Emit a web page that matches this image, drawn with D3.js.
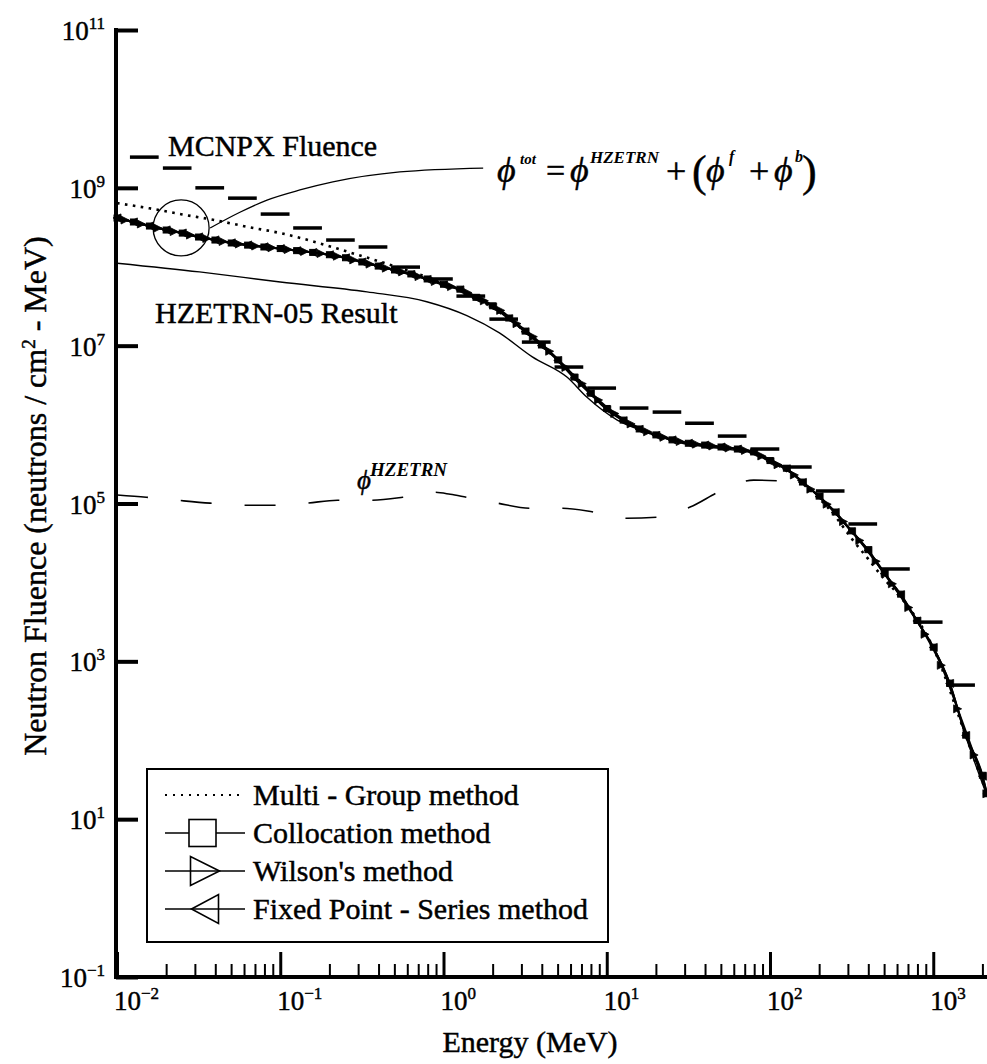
<!DOCTYPE html>
<html>
<head>
<meta charset="utf-8">
<script src="https://cdn.jsdelivr.net/npm/d3@7"></script>
<style>
  body { margin: 0; background: #fff; }
  svg text { fill: #000; stroke: #000; stroke-width: 0.45px; }
</style>
</head>
<body>
<svg id="chart" width="987" height="1064"></svg>
<script>
// ---- Deterministic solutions (MeV, neutrons / cm^2 - MeV) ----
const methodEnergy = [0.01, 0.0126, 0.0158, 0.02, 0.0251, 0.0316, 0.0398, 0.0501, 0.0631, 0.0794,
  0.1, 0.126, 0.158, 0.2, 0.251, 0.316, 0.398, 0.501, 0.631, 0.794,
  1, 1.26, 1.58, 2, 2.51, 3.16, 3.98, 5.01, 6.31, 7.94,
  10, 12.6, 15.8, 20, 25.1, 31.6, 39.8, 50.1, 63.1, 79.4,
  100, 126, 158, 200, 251, 316, 398, 501, 631, 794,
  1000, 1260, 1580, 2000, 2130];
const collocation = [4.14e8, 3.69e8, 3.28e8, 2.92e8, 2.67e8, 2.38e8, 2.18e8, 2.0e8, 1.88e8, 1.78e8,
  1.70e8, 1.60e8, 1.52e8, 1.42e8, 1.30e8, 1.15e8, 1.02e8, 9.1e7, 8.1e7, 7.0e7,
  6.0e7, 5.2e7, 4.1e7, 3.2e7, 2.24e7, 1.53e7, 1.02e7, 6.6e6, 4.0e6, 2.5e6,
  1.6e6, 1.14e6, 8.8e5, 7.4e5, 6.4e5, 5.8e5, 5.5e5, 5.2e5, 4.9e5, 4.5e5,
  3.5e5, 2.8e5, 1.87e5, 1.24e5, 7.8e4, 4.5e4, 2.6e4, 1.31e4, 7.1e3, 3.3e3,
  1.51e3, 530, 116, 36, 21];
const fixedPoint = [4.16e8, 3.70e8, 3.29e8, 2.93e8, 2.68e8, 2.39e8, 2.19e8, 2.01e8, 1.89e8, 1.79e8,
  1.70e8, 1.60e8, 1.52e8, 1.42e8, 1.30e8, 1.15e8, 1.02e8, 9.0e7, 8.0e7, 6.9e7,
  5.9e7, 5.1e7, 4.0e7, 3.1e7, 2.2e7, 1.50e7, 1.0e7, 6.5e6, 3.9e6, 2.45e6,
  1.55e6, 1.12e6, 8.7e5, 7.3e5, 6.4e5, 5.8e5, 5.5e5, 5.2e5, 4.9e5, 4.4e5,
  3.4e5, 2.75e5, 1.85e5, 1.22e5, 7.7e4, 4.4e4, 2.55e4, 1.29e4, 7.0e3, 3.25e3,
  1.5e3, 525, 115, 35, 21];
// Wilson's method is tabulated on a staggered energy grid
const wilsonEnergy = [0.0112, 0.0141, 0.0178, 0.0224, 0.0282, 0.0355, 0.0447, 0.0562, 0.0708, 0.0891,
  0.112, 0.141, 0.178, 0.224, 0.282, 0.355, 0.447, 0.562, 0.708, 0.891,
  1.12, 1.41, 1.78, 2.24, 2.82, 3.55, 4.47, 5.62, 7.08, 8.91,
  11.2, 14.1, 17.8, 22.4, 28.2, 35.5, 44.7, 56.2, 70.8, 89.1,
  112, 141, 178, 224, 282, 355, 447, 562, 708, 891,
  1120, 1410, 1780, 2130];
const wilson = [3.91e8, 3.48e8, 3.09e8, 2.79e8, 2.52e8, 2.28e8, 2.09e8, 1.94e8, 1.83e8, 1.74e8,
  1.65e8, 1.56e8, 1.47e8, 1.36e8, 1.22e8, 1.08e8, 9.6e7, 8.6e7, 7.5e7, 6.5e7,
  5.6e7, 4.7e7, 3.7e7, 2.8e7, 1.9e7, 1.3e7, 8.5e6, 5.3e6, 3.3e6, 2.05e6,
  1.38e6, 1.02e6, 8.1e5, 6.9e5, 6.1e5, 5.65e5, 5.35e5, 5.05e5, 4.7e5, 4.0e5,
  3.1e5, 2.3e5, 1.52e5, 9.8e4, 5.9e4, 3.4e4, 1.85e4, 9.6e3, 4.8e3, 2.2e3,
  890, 250, 65, 21];

const multiGroupEnergy = [0.01, 0.0158, 0.0251, 0.0398, 0.0631, 0.1, 0.158, 0.251, 0.398, 0.631,
  1, 1.58, 2.51, 3.98, 6.31, 10, 15.8, 25.1, 39.8, 63.1,
  100, 158, 251, 316, 398, 501, 631, 1000, 1580, 2130];
const multiGroup = [6.4e8, 5.5e8, 4.6e8, 3.9e8, 3.2e8, 2.67e8, 2.1e8, 1.58e8, 1.18e8, 8.7e7,
  6.2e7, 4.0e7, 2.2e7, 1.0e7, 4.2e6, 1.6e6, 8.9e5, 6.5e5, 5.4e5, 4.9e5,
  3.5e5, 1.8e5, 6.9e4, 3.6e4, 2.0e4, 1.1e4, 6.5e3, 1.48e3, 115, 21];

const hzetrn05Energy = [0.01, 0.032, 0.1, 0.34, 0.79, 1.39, 2.2, 3.5, 5.7, 7.6,
  11.6, 18.4, 29, 49, 88, 126, 200, 316, 501, 794, 1000, 1260, 1580, 2130];
const hzetrn05 = [1.11e8, 8.6e7, 6.4e7, 4.8e7, 3.6e7, 2.4e7, 1.45e7, 7.2e6, 4.0e6, 2.2e6,
  1.14e6, 7.8e5, 5.8e5, 5.0e5, 4.1e5, 2.7e5, 1.2e5, 4.4e4, 1.28e4, 3.2e3, 1.5e3, 520, 113, 20];

const phiHzetrnEnergy = [0.01, 0.0151, 0.0234, 0.0372, 0.0589, 0.0912, 0.145, 0.224, 0.355, 0.562,
  0.871, 1.10, 1.38, 2.14, 3.39, 5.37, 8.32, 13.2, 20.4, 32.4, 51.3, 79.4, 123];
const phiHzetrn = [1.28e5, 1.2e5, 1.1e5, 1.01e5, 9.5e4, 9.5e4, 1.01e5, 1.1e5, 1.1e5, 1.2e5,
  1.39e5, 1.31e5, 1.2e5, 1.01e5, 8.7e4, 8.7e4, 7.8e4, 6.5e4, 6.7e4, 9.0e4, 1.48e5, 1.98e5, 1.92e5];

// ---- MCNPX fluence bins ----
const mcnpxLow = [0.0120, 0.0191, 0.0302, 0.0479, 0.0759, 0.120, 0.191, 0.302, 0.479, 0.759,
  1.20, 1.91, 3.02, 4.79, 7.59, 12.0, 19.1, 30.2, 47.9, 75.9,
  120, 191, 302, 479, 759, 1200];
const mcnpxHigh = [0.0180, 0.0286, 0.0453, 0.0718, 0.114, 0.180, 0.286, 0.453, 0.718, 1.14,
  1.80, 2.86, 4.53, 7.18, 11.4, 18.0, 28.6, 45.3, 71.8, 114,
  180, 286, 453, 718, 1140, 1800];
const mcnpx = [2.45e9, 1.78e9, 1.0e9, 7.4e8, 4.65e8, 3.1e8, 2.18e8, 1.78e8, 9.9e7, 7.0e7,
  4.25e7, 2.17e7, 1.11e7, 5.36e6, 2.9e6, 1.62e6, 1.44e6, 1.04e6, 7.15e5, 4.9e5,
  2.9e5, 1.44e5, 5.5e4, 1.48e4, 3.14e3, 5.0e2];

// ---- Annotation: circled region and leader to the total-fluence formula ----
const circleAt = { energy: 0.0247, fluence: 3.1e8 };
const leaderEnergy = [0.0372, 0.0566, 0.083, 0.132, 0.21, 0.54, 1.75];
const leaderFluence = [3.1e8, 4.9e8, 7.0e8, 9.4e8, 1.19e9, 1.59e9, 1.78e9];

// ---- Axis ticks and legend ----
const xTickExponents = [-2, -1, 0, 1, 2, 3];
const yTickExponents = [-1, 1, 3, 5, 7, 9, 11];
const legendLabels = ["Multi - Group method", "Collocation method", "Wilson's method", "Fixed Point - Series method"];

// ------------------------------------------------------------------
const FONT = "'Times New Roman', Times, 'Liberation Serif', Tinos, 'Nimbus Roman', 'Noto Serif', 'DejaVu Serif', serif";
const svg = d3.select("#chart");
const x = d3.scaleLog().domain([0.01, 2134]).range([117, 987]);
const y = d3.scaleLog().domain([0.1, 1e11]).range([977, 30]);

const zip = (es, vs) => es.map((e, i) => [e, vs[i]]);
const line = d3.line().x(d => x(d[0])).y(d => y(d[1])).curve(d3.curveMonotoneX);

// triangle marker path pointing right (dir=1) or left (dir=-1)
function triPath(dir, w, h) {
  const p = d3.path();
  p.moveTo(dir * w / 2, 0);
  p.lineTo(-dir * w / 2, -h / 2);
  p.lineTo(-dir * w / 2, h / 2);
  p.closePath();
  return p.toString();
}

function txt(parent, px, py, size, str) {
  return parent.append("text").attr("x", px).attr("y", py)
    .style("font-family", FONT).style("font-size", size + "px").text(str);
}

const plot = svg.append("g");

// HZETRN-05 result (thin solid)
plot.append("path").attr("d", line(zip(hzetrn05Energy, hzetrn05)))
  .attr("fill", "none").attr("stroke", "#000").attr("stroke-width", 1.4);

// phi HZETRN (long dashes)
plot.append("path").attr("d", line(zip(phiHzetrnEnergy, phiHzetrn)))
  .attr("fill", "none").attr("stroke", "#000").attr("stroke-width", 1.6)
  .attr("stroke-dasharray", "31,33");

// MCNPX bins
plot.selectAll("line.mcnpx").data(mcnpx).join("line").attr("class", "mcnpx")
  .attr("x1", (d, i) => x(mcnpxLow[i])).attr("x2", (d, i) => x(mcnpxHigh[i]))
  .attr("y1", d => y(d)).attr("y2", d => y(d))
  .attr("stroke", "#000").attr("stroke-width", 3.5);

// three method curves with markers
const methods = [
  { en: methodEnergy, vals: collocation, marker: "square" },
  { en: wilsonEnergy, vals: wilson, marker: "right" },
  { en: methodEnergy, vals: fixedPoint, marker: "left" }
];
methods.forEach(m => {
  const pts = zip(m.en, m.vals);
  plot.append("path").attr("d", line(pts)).attr("fill", "none")
    .attr("stroke", "#000").attr("stroke-width", 2);
  const g = plot.append("g");
  pts.forEach(p => {
    const cx = x(p[0]), cy = y(p[1]);
    if (m.marker === "square") {
      g.append("rect").attr("x", cx - 3).attr("y", cy - 3).attr("width", 6).attr("height", 6)
        .attr("fill", "#000").attr("stroke", "#000").attr("stroke-width", 1);
    } else {
      g.append("path").attr("d", triPath(m.marker === "right" ? 1 : -1, 8, 8))
        .attr("transform", `translate(${cx},${cy})`)
        .attr("fill", "#000").attr("stroke", "#000").attr("stroke-width", 0.8);
    }
  });
});

// Multi-group (dotted)
plot.append("path").attr("d", line(zip(multiGroupEnergy, multiGroup)))
  .attr("fill", "none").attr("stroke", "#000").attr("stroke-width", 2.6)
  .attr("stroke-dasharray", "2.6,5.4");

// annotation circle and leader
plot.append("circle").attr("cx", x(circleAt.energy)).attr("cy", y(circleAt.fluence)).attr("r", 28)
  .attr("fill", "none").attr("stroke", "#000").attr("stroke-width", 1.3);
plot.append("path").attr("d", line(zip(leaderEnergy, leaderFluence)))
  .attr("fill", "none").attr("stroke", "#000").attr("stroke-width", 1.3);

// ---- Axes ----
const xMajor = xTickExponents.map(e => Math.pow(10, e));
const xMinor = x.ticks().filter(v => Math.abs(Math.log10(v) - Math.round(Math.log10(v))) > 1e-6);
const yMajor = yTickExponents.map(e => Math.pow(10, e));

const xAxisG = svg.append("g").attr("transform", "translate(0,977)");
xAxisG.append("g").call(d3.axisBottom(x).tickValues(xMinor).tickSize(-13).tickSizeOuter(0).tickFormat(""))
  .call(g => g.select(".domain").remove())
  .call(g => g.selectAll(".tick line").attr("stroke-width", 2));
xAxisG.append("g").call(d3.axisBottom(x).tickValues(xMajor).tickSize(-25).tickSizeOuter(0).tickFormat(""))
  .call(g => g.select(".domain").attr("stroke-width", 4).attr("d", "M114,0H987"))
  .call(g => g.selectAll(".tick line").attr("stroke-width", 3));

const yAxisG = svg.append("g").attr("transform", "translate(116,0)");
yAxisG.call(d3.axisLeft(y).tickValues(yMajor).tickSize(-22).tickSizeOuter(0).tickFormat(""))
  .call(g => g.select(".domain").attr("stroke-width", 4).attr("d", "M0,28V979"))
  .call(g => g.selectAll(".tick line").attr("stroke-width", 4));

const fmtExp = e => (e < 0 ? "\u2212" + (-e) : String(e));
function powerLabel(px, py, exp, anchor) {
  const t = txt(svg, px, py, 27, null).attr("text-anchor", anchor);
  t.append("tspan").text("10");
  t.append("tspan").attr("dy", -11).style("font-size", "17px").text(fmtExp(exp));
}
xTickExponents.forEach(e => powerLabel(x(Math.pow(10, e)) - 3, 1010, e, "start"));
yTickExponents.forEach(e => powerLabel(105, y(Math.pow(10, e)) + 10, e, "end"));

// axis titles
txt(svg, 530, 1052, 30, "Energy (MeV)").attr("text-anchor", "middle");
const yt = txt(svg, 0, 0, 32, null).attr("transform", "translate(46,496) rotate(-90)")
  .attr("text-anchor", "middle");
yt.append("tspan").text("Neutron Fluence (neutrons / cm");
yt.append("tspan").attr("dy", -11).style("font-size", "19px").text("2");
yt.append("tspan").attr("dy", 11).text("\u00A0- MeV)");

// ---- In-plot labels ----
txt(svg, 168, 156, 30, "MCNPX Fluence");
txt(svg, 155, 323, 30, "HZETRN-05 Result");

// total fluence formula
const phi = "\u03D5";
const italic = t => t.style("font-style", "italic");
const supStyle = t => t.style("font-style", "italic").style("font-weight", "bold").style("stroke-width", "0px");
italic(txt(svg, 497, 182, 36, phi));
supStyle(txt(svg, 520, 164, 15, "tot"));
txt(svg, 546, 182, 34, "=");
italic(txt(svg, 570, 182, 36, phi));
supStyle(txt(svg, 590, 163, 17, "HZETRN"));
txt(svg, 666, 183, 36, "+");
txt(svg, 692, 186, 44, "(");
italic(txt(svg, 706, 182, 36, phi));
supStyle(txt(svg, 729, 162, 16, "f"));
txt(svg, 749, 183, 36, "+");
italic(txt(svg, 774, 182, 36, phi));
supStyle(txt(svg, 795, 162, 16, "b"));
txt(svg, 802, 186, 44, ")");

// phi HZETRN label
italic(txt(svg, 357, 489, 27, phi));
supStyle(txt(svg, 370, 476, 19, "HZETRN"));

// ---- Legend ----
const lg = svg.append("g");
lg.append("rect").attr("x", 147).attr("y", 769).attr("width", 461).attr("height", 173)
  .attr("fill", "#fff").attr("stroke", "#000").attr("stroke-width", 2);
const rowY = d3.scalePoint().domain(legendLabels).range([795, 909]);
legendLabels.forEach((lab, i) => {
  const ly = rowY(lab);
  const ln = lg.append("line").attr("x1", 165).attr("x2", 245).attr("y1", ly).attr("y2", ly)
    .attr("stroke", "#000").attr("stroke-width", i === 0 ? 2 : 1.6);
  if (i === 0) ln.attr("stroke-dasharray", "2,6");
  if (i === 1) lg.append("rect").attr("x", 189).attr("y", ly - 13.5).attr("width", 27).attr("height", 27)
    .attr("fill", "#fff").attr("stroke", "#000").attr("stroke-width", 1.6);
  if (i === 2) lg.append("path").attr("d", triPath(1, 29, 29)).attr("transform", `translate(205,${ly})`)
    .attr("fill", "none").attr("stroke", "#000").attr("stroke-width", 1.6);
  if (i === 3) lg.append("path").attr("d", triPath(-1, 27, 29)).attr("transform", `translate(205,${ly})`)
    .attr("fill", "none").attr("stroke", "#000").attr("stroke-width", 1.6);
  txt(lg, 253, ly + 10, 30, lab);
});
</script>
</body>
</html>
